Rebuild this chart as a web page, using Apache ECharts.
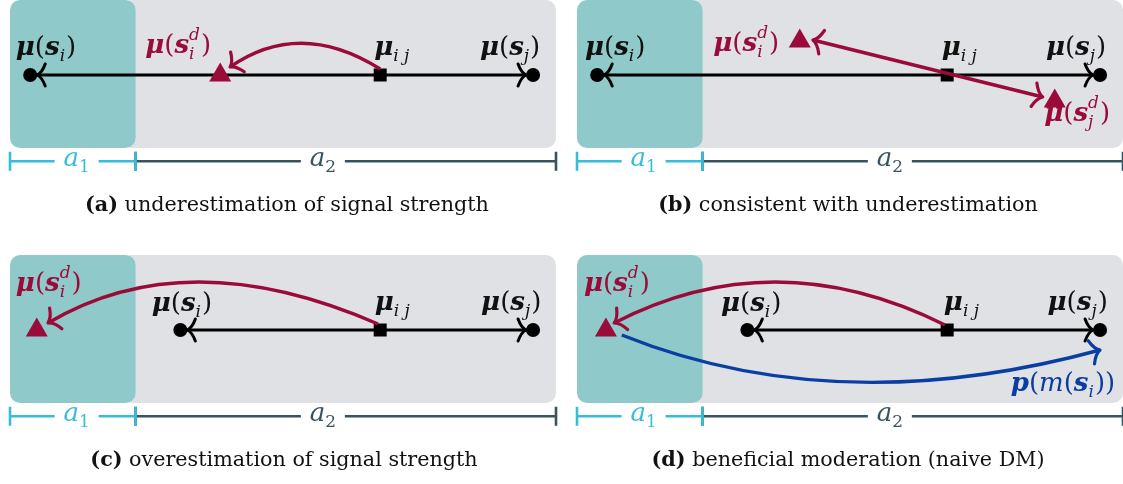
<!DOCTYPE html>
<html>
<head>
<meta charset="utf-8">
<script src="https://cdn.jsdelivr.net/npm/echarts@6/dist/echarts.min.js"></script>
<style>
  html, body { margin: 0; padding: 0; background: #ffffff; }
  #chart { width: 1123px; height: 484px; }
</style>
</head>
<body>
<div id="chart"></div>
<script>
// ---- values on the signal axis, one entry per sub-figure (a)-(d) ----
const panelTags = ['(a)', '(b)', '(c)', '(d)'];
const panelCaptions = [
  'underestimation of signal strength',
  'consistent with underestimation',
  'overestimation of signal strength',
  'beneficial moderation (naive DM)'
];
const regionSplit = [23, 23, 23, 23];          // boundary between region a1 and region a2
const a1LabelAt = [12.2, 12.2, 12.2, 12.2];
const a2LabelAt = [57.3, 57.3, 57.3, 57.3];

const muSi = [3.7, 3.7, 31.2, 31.2];
const muIJ = [67.8, 67.8, 67.8, 67.8];
const muSj = [95.8, 95.8, 95.8, 95.8];
const muSiD = [[38.5, 0.12], [40.8, 1.48], [4.9, 0.12], [5.3, 0.12]];
const muSjD = [null, [87.5, -0.92], null, null];

// decision-maker shifts (crimson): start, bend point, arrow tip
const shiftFrom = [[67.8, 0.24], [43.2, 1.40], [67.4, 0.24], [67.4, 0.20]];
const shiftBend = [[53.1, 2.26], [64.25, 0.26], [32.4, 3.58], [36.2, 3.60]];
const shiftTo = [[40.3, 0.32], [85.3, -0.88], [6.96, 0.28], [6.8, 0.28]];
const shiftBothEnds = [0, 1, 0, 0];

// moderation p(m(s_i)) (blue)
const modFrom = [null, null, null, [8.2, -0.20]];
const modBend = [null, null, null, [47.6, -3.66]];
const modTo = [null, null, null, [95.8, -0.80]];

// label anchors: [centre, baseline]
const labelSi = [[6.6, 0.72], [7.0, 0.72], [31.5, 0.68], [31.9, 0.68]];
const labelSiD = [[30.8, 0.80], [31.0, 0.88], [7.1, 1.48], [7.3, 1.48]];
const labelIJ = [[70.0, 0.72], [70.1, 0.72], [70.1, 0.72], [70.5, 0.72]];
const labelSj = [[91.6, 0.72], [91.4, 0.72], [91.8, 0.72], [91.7, 0.72]];
const labelSjD = [null, [91.6, -1.92], null, null];
const labelPm = [null, null, null, [89.0, -2.52]];

// ---- look ----
const TEAL = '#8fc9c9';
const GREY = '#dfe1e5';
const CRIMSON = '#9b0b3a';
const BLUE = '#0b3ea3';
const CYAN = '#36bdd7';
const SLATE = '#38535f';
const INK = '#111111';
const SERIF = '"DejaVu Serif", serif';
const BASE = 26, SCRIPT = 17;
const BOX_TOP = 3, BOX_BOTTOM = -2.92, BRACKET_Y = -3.45;

const FONTS = {
  B: { fontStyle: 'italic', fontWeight: 'bold', fontSize: BASE },
  R: { fontStyle: 'normal', fontWeight: 'normal', fontSize: BASE },
  I: { fontStyle: 'italic', fontWeight: 'normal', fontSize: BASE },
  S: { fontStyle: 'italic', fontWeight: 'normal', fontSize: SCRIPT },
  N: { fontStyle: 'normal', fontWeight: 'normal', fontSize: SCRIPT }
};
const SUB_DY = 6, SUP_DY = -13;

// math label templates: [text, font, position, stacked subscript]
const TEMPLATES = [
  { color: INK, parts: [['μ', 'B'], ['(', 'R'], ['s', 'B'], ['i', 'S', 'sub'], [')', 'R']] },
  { color: CRIMSON, parts: [['μ', 'B'], ['(', 'R'], ['s', 'B'], ['d', 'S', 'sup', 'i'], [')', 'R']] },
  { color: INK, parts: [['μ', 'B'], ['i', 'S', 'sub'], ['\u2009', 'S', 'sub'], ['j', 'S', 'sub']] },
  { color: INK, parts: [['μ', 'B'], ['(', 'R'], ['s', 'B'], ['j', 'S', 'sub'], [')', 'R']] },
  { color: CRIMSON, parts: [['μ', 'B'], ['(', 'R'], ['s', 'B'], ['d', 'S', 'sup', 'j'], [')', 'R']] },
  { color: BLUE, parts: [['p', 'B'], ['(', 'R'], ['m', 'I'], ['(', 'R'], ['s', 'B'], ['i', 'S', 'sub'], [')', 'R'], [')', 'R']] }
];

const measureCtx = document.createElement('canvas').getContext('2d');
function textWidth(text, f) {
  measureCtx.font = f.fontStyle + ' ' + f.fontWeight + ' ' + f.fontSize + 'px ' + SERIF;
  return measureCtx.measureText(text).width;
}
function textEl(text, f, x, baseline, color) {
  return {
    type: 'text', x: x, y: baseline - 0.35 * f.fontSize,
    style: {
      text: text, fontFamily: SERIF, fontSize: f.fontSize, fontStyle: f.fontStyle,
      fontWeight: f.fontWeight, fill: color, align: 'left', verticalAlign: 'middle'
    }
  };
}
function layoutMath(parts, cx, baseline, color) {
  const pieces = [];
  let x = 0;
  parts.forEach(function (p) {
    const f = FONTS[p[1]];
    const w = textWidth(p[0], f);
    const dy = p[2] === 'sub' ? SUB_DY : (p[2] === 'sup' ? SUP_DY : 0);
    pieces.push([p[0], f, x, dy]);
    let adv = w;
    if (p[3]) {
      pieces.push([p[3], f, x, SUB_DY]);
      adv = Math.max(w, textWidth(p[3], f));
    }
    x += adv + (p[2] ? 1 : 0);
  });
  const x0 = cx - x / 2;
  return pieces.map(function (q) { return textEl(q[0], q[1], x0 + q[2], baseline + q[3], color); });
}

function arrowHead(tip, from, color, lw, L, W) {
  const dx = tip[0] - from[0], dy = tip[1] - from[1];
  const len = Math.hypot(dx, dy) || 1;
  const ux = dx / len, uy = dy / len, nx = -uy, ny = ux;
  const pt = function (a, b) { return (tip[0] - a * ux + b * nx).toFixed(2) + ' ' + (tip[1] - a * uy + b * ny).toFixed(2); };
  const d = 'M' + pt(L, W) + ' Q' + pt(L * 0.6, W * 0.2) + ' ' + tip[0].toFixed(2) + ' ' + tip[1].toFixed(2) +
            ' Q' + pt(L * 0.6, -W * 0.2) + ' ' + pt(L, -W);
  return {
    type: 'path', shape: { pathData: d },
    style: { fill: null, stroke: color, lineWidth: lw, lineCap: 'round', lineJoin: 'round' }
  };
}

function renderRegions(params, api) {
  const tl = api.coord([api.value(0), BOX_TOP]);
  const br = api.coord([api.value(2), BOX_BOTTOM]);
  const sp = api.coord([api.value(1), BOX_TOP]);
  const h = br[1] - tl[1];
  return {
    type: 'group', children: [
      { type: 'rect', shape: { x: sp[0] - 14, y: tl[1], width: br[0] - sp[0] + 14, height: h, r: 10 }, style: { fill: GREY } },
      { type: 'rect', shape: { x: tl[0], y: tl[1], width: sp[0] - tl[0], height: h, r: 10 }, style: { fill: TEAL } }
    ]
  };
}

function renderBracket(params, api) {
  const k = api.value(3);
  const color = k === 0 ? CYAN : SLATE;
  const p0 = api.coord([api.value(0), BRACKET_Y]);
  const p1 = api.coord([api.value(1), BRACKET_Y]);
  const pl = api.coord([api.value(2), BRACKET_Y]);
  const gap = 22, tick = 9.5;
  const st = { stroke: color, lineWidth: 2.6 };
  const aF = FONTS.I, nF = FONTS.N;
  const wa = textWidth('a', aF), wn = textWidth(k === 0 ? '1' : '2', nF);
  const x0 = pl[0] - (wa + wn) / 2;
  const base = pl[1] + 7;
  return {
    type: 'group', children: [
      { type: 'line', shape: { x1: p0[0], y1: p0[1], x2: pl[0] - gap, y2: pl[1] }, style: st },
      { type: 'line', shape: { x1: pl[0] + gap, y1: pl[1], x2: p1[0], y2: p1[1] }, style: st },
      { type: 'line', shape: { x1: p0[0], y1: p0[1] - tick, x2: p0[0], y2: p0[1] + tick }, style: st },
      { type: 'line', shape: { x1: p1[0], y1: p1[1] - tick, x2: p1[0], y2: p1[1] + tick }, style: st },
      textEl('a', aF, x0, base, color),
      textEl(k === 0 ? '1' : '2', nF, x0 + wa, base + 5, color)
    ]
  };
}

function renderAxisLine(params, api) {
  const a = api.coord([api.value(0), 0]);
  const b = api.coord([api.value(1), 0]);
  const ta = [a[0] + 7, a[1]], tb = [b[0] - 7, b[1]];
  return {
    type: 'group', children: [
      { type: 'line', shape: { x1: a[0], y1: a[1], x2: b[0], y2: b[1] }, style: { stroke: '#000', lineWidth: 3 } },
      arrowHead(ta, b, '#000', 3, 8, 11),
      arrowHead(tb, a, '#000', 3, 8, 11)
    ]
  };
}

function makeArrowRenderer(color) {
  return function (params, api) {
    const f = api.coord([api.value(0), api.value(1)]);
    const c = api.coord([api.value(2), api.value(3)]);
    const t = api.coord([api.value(4), api.value(5)]);
    const kids = [
      {
        type: 'path',
        shape: { pathData: 'M' + f[0] + ' ' + f[1] + ' Q' + c[0] + ' ' + c[1] + ' ' + t[0] + ' ' + t[1] },
        style: { fill: null, stroke: color, lineWidth: 3.4 }
      },
      arrowHead(t, c, color, 3.2, 9, 12)
    ];
    if (api.value(6) === 1) kids.push(arrowHead(f, c, color, 3.2, 9, 12));
    return { type: 'group', children: kids };
  };
}

function renderLabel(params, api) {
  const p = api.coord([api.value(0), api.value(1)]);
  const tpl = TEMPLATES[api.value(2)];
  return { type: 'group', children: layoutMath(tpl.parts, p[0], p[1], tpl.color) };
}

const GRID_POS = [[10, 0], [577, 0], [10, 255], [577, 255]];
const series = [];
for (let i = 0; i < 4; i++) {
  const ax = { xAxisIndex: i, yAxisIndex: i, silent: true, animation: false };
  series.push(Object.assign({ type: 'custom', z: 1, data: [[0, regionSplit[i], 100]], renderItem: renderRegions }, ax));
  series.push(Object.assign({
    type: 'custom', z: 2,
    data: [[regionSplit[i], 100, a2LabelAt[i], 1], [0, regionSplit[i], a1LabelAt[i], 0]],
    renderItem: renderBracket
  }, ax));
  series.push(Object.assign({ type: 'custom', z: 3, data: [[muSi[i], muSj[i]]], renderItem: renderAxisLine }, ax));
  series.push(Object.assign({
    type: 'scatter', z: 4, symbol: 'circle', symbolSize: 14,
    itemStyle: { color: '#000', opacity: 1 }, data: [[muSi[i], 0], [muSj[i], 0]]
  }, ax));
  series.push(Object.assign({
    type: 'scatter', z: 4, symbol: 'rect', symbolSize: 13,
    itemStyle: { color: '#000', opacity: 1 }, data: [[muIJ[i], 0]]
  }, ax));
  const tri = [muSiD[i]].concat(muSjD[i] ? [muSjD[i]] : []);
  series.push(Object.assign({
    type: 'scatter', z: 4, symbol: 'triangle', symbolSize: [22, 19],
    itemStyle: { color: CRIMSON, opacity: 1 }, data: tri
  }, ax));
  series.push(Object.assign({
    type: 'custom', z: 5,
    data: [shiftFrom[i].concat(shiftBend[i], shiftTo[i], [shiftBothEnds[i]])],
    renderItem: makeArrowRenderer(CRIMSON)
  }, ax));
  if (modFrom[i]) {
    series.push(Object.assign({
      type: 'custom', z: 5,
      data: [modFrom[i].concat(modBend[i], modTo[i], [0])],
      renderItem: makeArrowRenderer(BLUE)
    }, ax));
  }
  const labels = [labelSi[i].concat([0]), labelSiD[i].concat([1]), labelIJ[i].concat([2]), labelSj[i].concat([3])];
  if (labelSjD[i]) labels.push(labelSjD[i].concat([4]));
  if (labelPm[i]) labels.push(labelPm[i].concat([5]));
  series.push(Object.assign({ type: 'custom', z: 6, data: labels, renderItem: renderLabel }, ax));
}

const captionCentres = [[287, 206], [848, 206], [284, 461], [848, 461]];
const CAP = 20.7;
const graphics = panelTags.map(function (tag, i) {
  return {
    type: 'text', x: captionCentres[i][0], y: captionCentres[i][1], silent: true,
    style: {
      text: '{b|' + tag + '}{n| ' + panelCaptions[i] + '}',
      rich: {
        b: { fontFamily: SERIF, fontSize: CAP, fontWeight: 'bold', fill: INK },
        n: { fontFamily: SERIF, fontSize: CAP, fontWeight: 'normal', fill: INK }
      },
      align: 'center', verticalAlign: 'middle'
    }
  };
});

const chart = echarts.init(document.getElementById('chart'), null, { renderer: 'canvas' });
chart.setOption({
  animation: false,
  backgroundColor: '#ffffff',
  grid: GRID_POS.map(function (g) { return { left: g[0], top: g[1], width: 546, height: 150 }; }),
  xAxis: [0, 1, 2, 3].map(function (i) { return { type: 'value', gridIndex: i, min: 0, max: 100, show: false }; }),
  yAxis: [0, 1, 2, 3].map(function (i) { return { type: 'value', gridIndex: i, min: -3, max: 3, show: false }; }),
  series: series,
  graphic: graphics
});
</script>
</body>
</html>
